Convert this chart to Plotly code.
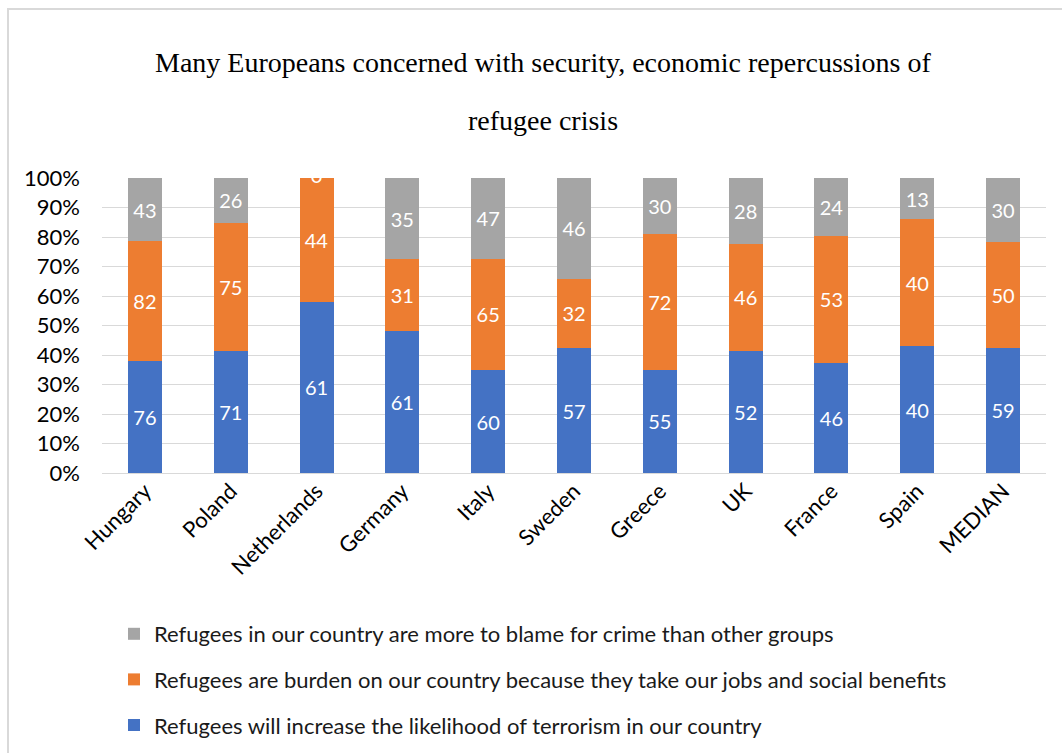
import plotly.graph_objects as go

# Survey shares by country (percent of respondents agreeing)
countries = ["Hungary", "Poland", "Netherlands", "Germany", "Italy", "Sweden",
             "Greece", "UK", "France", "Spain", "MEDIAN"]
terrorism = [76, 71, 61, 61, 60, 57, 55, 52, 46, 40, 59]
burden = [82, 75, 44, 31, 65, 32, 72, 46, 53, 40, 50]
crime = [43, 26, 0, 35, 47, 46, 30, 28, 24, 13, 30]

title_lines = ["Many Europeans concerned with security, economic repercussions of",
               "refugee crisis"]

series = [
    ("Refugees will increase the likelihood of terrorism in our country", terrorism, "#4472C4"),
    ("Refugees are burden on our country because they take our jobs and social benefits", burden, "#ED7D31"),
    ("Refugees in our country are more to blame for crime than other groups", crime, "#A5A5A5"),
]

W, H = 1062, 753
ML, MR, MT, MB = 102, 16, 178, 280
PW, PH = W - ML - MR, H - MT - MB

label_font = dict(family="Lato", size=20, color="white")
tick_font = dict(family="Lato", size=22, color="#000000")


def px_x(p):
    return (p - ML) / PW


def px_y(p):
    return (H - MB - p) / PH


fig = go.Figure()
n = len(series)
for i, (name, vals, color) in enumerate(series):
    fig.add_trace(go.Bar(
        x=countries, y=vals, name=name, marker_color=color,
        marker_line_width=0,
        text=[str(v) if v else "" for v in vals],
        texttemplate="%{text}", textposition="inside",
        insidetextanchor="middle", textangle=0,
        textfont=label_font, legendgroup=f"g{i}", legendrank=n - i,
        hoverinfo="skip",
    ))

# Zero-valued segments still carry a label at their (empty) position
totals = [a + b + c for a, b, c in zip(terrorism, burden, crime)]
zx, zy = [], []
for s_idx, (_, vals, _) in enumerate(series):
    for k, v in enumerate(vals):
        if v == 0:
            cum = sum(series[j][1][k] for j in range(s_idx + 1))
            zx.append(countries[k])
            zy.append(100 * cum / totals[k])
fig.add_trace(go.Scatter(
    x=zx, y=zy, mode="text", text=["0"] * len(zx),
    textposition="middle center", textfont=label_font,
    showlegend=False, cliponaxis=True, hoverinfo="skip",
))

title_font = dict(family="Liberation Serif", size=28, color="#000000")
annotations = [
    dict(text=t, xref="paper", yref="paper", x=px_x(543), y=px_y(yc),
         xanchor="center", yanchor="middle", showarrow=False, font=title_font)
    for t, yc in zip(title_lines, [62, 120])
]

fig.update_layout(
    width=W, height=H,
    margin=dict(l=ML, r=MR, t=MT, b=MB, autoexpand=False),
    paper_bgcolor="white", plot_bgcolor="white",
    barmode="stack", barnorm="percent", bargap=0.604,
    annotations=annotations,
    xaxis=dict(
        tickangle=-45, tickfont=tick_font, automargin=False,
        showgrid=False, showline=False, ticks="",
    ),
    yaxis=dict(
        range=[0, 100], dtick=10, ticksuffix="%",
        tickfont=tick_font, automargin=False,
        gridcolor="#D9D9D9", gridwidth=1, zeroline=True,
        zerolinecolor="#D9D9D9", zerolinewidth=1, showline=False,
        ticks="", ticklabelstandoff=21,
    ),
    legend=dict(
        traceorder="grouped", tracegroupgap=14,
        x=px_x(114), xanchor="left", y=px_y(613), yanchor="top",
        font=dict(family="Lato", size=22, color="#1a1a1a"),
        itemwidth=30, bgcolor="rgba(0,0,0,0)",
    ),
    shapes=[dict(
        type="rect", xref="paper", yref="paper",
        x0=px_x(8), x1=px_x(1300), y0=px_y(1000), y1=px_y(9),
        line=dict(color="#D9D9D9", width=2), fillcolor="rgba(0,0,0,0)",
        layer="below",
    )],
)

fig.write_html("out.html")
